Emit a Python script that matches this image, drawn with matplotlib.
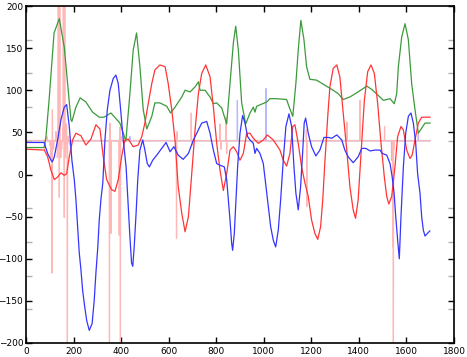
import numpy as np
import matplotlib.pyplot as plt
from matplotlib.ticker import FixedLocator

# main traces
green_x = [0, 76, 84, 97, 118, 140, 161, 175, 189, 193, 210, 228, 252, 280, 308, 328, 357, 395, 416, 420,
           437, 451, 465, 479, 493, 508, 529, 542, 563, 592, 608, 627, 655, 669, 690, 711, 725, 732, 753,
           774, 788, 802, 823, 844, 858, 872, 882, 893, 907, 924, 942, 956, 963, 970, 1012, 1026, 1054,
           1096, 1107, 1122, 1135, 1145, 1156, 1169, 1180, 1194, 1222, 1257, 1286, 1313, 1334, 1362,
           1391, 1418, 1433, 1454, 1481, 1503, 1531, 1549, 1559, 1566, 1580, 1594, 1608, 1622, 1636,
           1650, 1664, 1678, 1699]
green_y = [32, 32, 45, 88, 168, 185, 151, 108, 65, 63, 80, 91, 86, 74, 68, 68, 73, 61, 43, 40,
           96, 148, 168, 128, 77, 54, 69, 85, 85, 81, 73, 80, 92, 100, 98, 104, 110, 100, 100,
           92, 84, 85, 79, 60, 108, 156, 176, 148, 85, 60, 73, 80, 74, 81, 86, 90, 90,
           89, 80, 69, 108, 148, 183, 160, 128, 113, 112, 106, 101, 96, 89, 92,
           97, 102, 105, 101, 94, 88, 90, 84, 96, 128, 163, 179, 160, 108, 77,
           49, 55, 61, 61]

red_x = [0, 77, 91, 105, 119, 133, 147, 161, 171, 182, 196, 210, 231, 252, 273, 294, 311, 325, 339, 360,
         374, 388, 402, 416, 430, 451, 472, 487, 500, 514, 529, 542, 563, 585, 598, 613, 627, 640, 655,
         669, 683, 697, 711, 725, 739, 756, 774, 788, 802, 816, 830, 844, 858, 872, 886, 900, 914, 928,
         942, 956, 977, 998, 1015, 1040, 1068, 1082, 1096, 1110, 1122, 1131, 1145, 1159, 1173, 1187,
         1201, 1215, 1227, 1239, 1248, 1257, 1269, 1278, 1292, 1307, 1320, 1334, 1349, 1362, 1376,
         1386, 1397, 1409, 1423, 1437, 1451, 1465, 1479, 1493, 1507, 1517, 1526, 1538, 1552, 1563,
         1577, 1587, 1601, 1615, 1624, 1636, 1650, 1664, 1699]
red_y = [30, 29, 21, 5, -6, -3, 2, -1, 1, 21, 41, 49, 46, 35, 42, 59, 54, 21, -6, -18,
         -20, -6, 21, 41, 42, 33, 35, 45, 61, 84, 108, 124, 130, 128, 108, 77, 40, -14, -46,
         -68, -50, 1, 53, 96, 120, 130, 116, 80, 37, 5, -19, 1, 29, 33, 27, 17, 25, 49,
         49, 43, 37, 41, 47, 41, 29, 17, 10, 25, 57, 59, 37, 9, -10, -26,
         -54, -70, -77, -62, -30, 15, 69, 104, 126, 130, 116, 73, 29, -14, -42,
         -52, -30, 25, 88, 122, 130, 120, 84, 37, -3, -26, -35, -26, 10, 45,
         57, 53, 29, 19, 23, 41, 61, 68, 68]

blue_x = [0, 76, 91, 105, 111, 119, 133, 147, 161, 171, 182, 193, 203, 210, 217, 224, 231, 238, 245, 255,
          266, 278, 287, 294, 302, 308, 315, 323, 332, 342, 353, 367, 378, 388, 398, 409, 421, 430, 437,
          444, 449, 455, 463, 470, 479, 491, 500, 510, 519, 533, 550, 571, 589, 606, 622, 640, 661, 683,
          704, 718, 739, 760, 774, 788, 802, 816, 834, 844, 851, 858, 865, 869, 876, 883, 890, 900, 911,
          921, 932, 942, 956, 963, 970, 984, 998, 1009, 1019, 1029, 1040, 1050, 1061, 1071, 1082, 1093,
          1106, 1117, 1127, 1135, 1145, 1155, 1164, 1170, 1176, 1187, 1201, 1219, 1236, 1253, 1271,
          1286, 1307, 1328, 1341, 1355, 1376, 1397, 1412, 1429, 1447, 1468, 1489, 1498, 1517, 1531,
          1540, 1548, 1555, 1563, 1570, 1577, 1587, 1597, 1608, 1619, 1629, 1639, 1647, 1657, 1664,
          1671, 1678, 1688, 1698]
blue_y = [38, 38, 25, 17, 15, 21, 41, 65, 80, 83, 57, 17, -6, -30, -62, -93, -113, -137, -153, -173,
          -185, -177, -149, -117, -86, -54, -30, -10, 41, 77, 100, 114, 118, 108, 77, 41, 9, -38, -74,
          -105, -109, -86, -46, -6, 29, 41, 29, 13, 9, 17, 23, 31, 38, 27, 33, 23, 18, 25,
          41, 49, 61, 63, 49, 29, 13, 11, 9, -6, -30, -54, -82, -90, -70, -30, 9, 49, 70,
          61, 45, 41, 37, 25, 31, 25, 13, -14, -38, -62, -78, -86, -66, -30, 17, 57,
          72, 57, 9, -22, -42, -14, 29, 61, 67, 49, 33, 22, 29, 44, 44,
          43, 47, 41, 29, 21, 14, 21, 31, 31, 28, 29, 29, 25, 23, 13,
          -3, -22, -50, -78, -100, -50, 9, 49, 69, 73, 61, 37, 1, -22, -50,
          -66, -73, -70, -67]

# faint noisy traces around 40
pink_x = [0, 78, 80, 82, 86, 88, 90, 98, 100, 102, 104, 106, 108, 109, 110, 111, 112, 113, 116, 118, 120,
          124, 126, 128, 131, 132, 134, 136, 137, 138, 139, 140, 141, 142, 143, 145, 146, 148, 150, 152,
          154, 155, 156, 157, 158, 159, 160, 161, 162, 163, 164, 166, 168, 170, 172, 173, 174, 175, 177,
          178, 180, 185, 187, 350, 351, 352, 353, 354, 356, 357, 358, 391, 392, 393, 395, 396, 397,
          398, 400, 402, 632, 633, 634, 636, 637, 694, 695, 696, 699, 700, 701, 815, 816, 817, 819,
          820, 821, 840, 841, 842, 843, 844, 845, 1178, 1179, 1180, 1181, 1182, 1349, 1350, 1351,
          1404, 1405, 1406, 1507, 1508, 1509, 1542, 1543, 1544, 1545, 1546, 1548, 1549, 1699]
pink_y = [40, 40, 30, 40, 40, 45, 40, 40, 35, 40, 20, 40, 40, -117, 40, 77, 40, 40, 30, 40, 40,
          40, 51, 40, 40, 20, 40, 250, 40, 250, 40, -27, 40, 250, 40, 40, 20, 40, 30, 40,
          40, 55, 40, 250, 40, 250, 40, -51, 40, 250, 40, 20, 40, 60, 40, 40, -250, 40, 40,
          45, 40, 35, 40, 40, -250, 40, 61, 40, 40, -70, 40, 40, -72, 40, 56, 40, -250,
          40, 45, 40, 40, -76, 40, 51, 40, 40, 73, 40, 40, 35, 40, 40, 60, 40, 40,
          30, 40, 40, 68, 40, 40, 25, 40, 40, 53, 40, -38, 40, 40, 62, 40,
          40, 88, 40, 40, 57, 40, 40, -86, 40, -250, 40, 30, 40, 40]

lblue_x = [0, 436, 437, 438, 888, 889, 890, 1008, 1009, 1010, 1537, 1538, 1539, 1649, 1650, 1651, 1699]
lblue_y = [40, 40, 45, 40, 40, 88, 40, 40, 102, 40, 40, 17, 40, 40, 49, 40, 40]

lgreen_x = [0, 1699]
lgreen_y = [41, 41]

fig = plt.figure(figsize=(4.67, 3.57), dpi=100)
ax = fig.add_axes([26 / 467, 1 - 343 / 357, 428 / 467, 337 / 357])

ax.plot(lgreen_x, lgreen_y, color='#b4e0b4', lw=0.9)
ax.plot(lblue_x, lblue_y, color='#b8b8ff', lw=0.9)
ax.plot(pink_x, pink_y, color='#ffb8b8', lw=0.9)
ax.plot(green_x, green_y, color='#3c9a3c', lw=0.9)
ax.plot(red_x, red_y, color='#ff3535', lw=0.9)
ax.plot(blue_x, blue_y, color='#3535ff', lw=0.9)

ax.set_xlim(0, 1800)
ax.set_ylim(-200, 200)
ax.set_xticks(np.arange(0, 1801, 200))
ax.set_yticks(np.arange(-200, 201, 50))
ax.yaxis.set_minor_locator(FixedLocator([-160, -120, -80, -40, 40, 80, 120, 160]))
ax.xaxis.set_minor_locator(FixedLocator([]))
ax.tick_params(which='major', direction='in', length=4, width=1, top=True, right=True,
               labelsize=6.5, pad=2, colors='black')
ax.tick_params(axis='x', which='major', pad=3)
ax.tick_params(which='minor', direction='in', length=4, width=1, left=True, right=True,
               color='#b0b0b0')
for s in ax.spines.values():
    s.set_linewidth(1.2)

fig.savefig('out.png', dpi=100)
